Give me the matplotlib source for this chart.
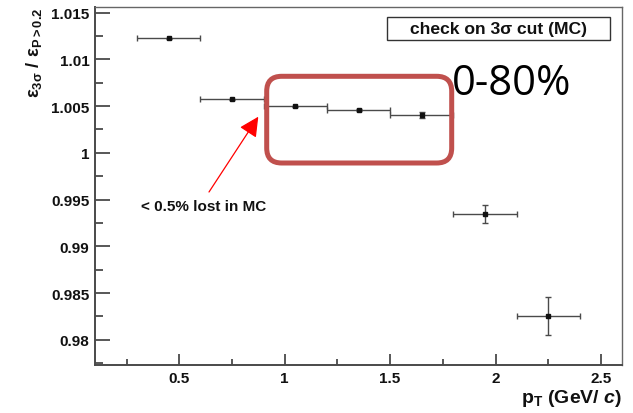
import matplotlib
matplotlib.use("Agg")
import matplotlib.pyplot as plt
from matplotlib.patches import FancyBboxPatch, Rectangle
from matplotlib.ticker import MultipleLocator
import numpy as np

plt.rcParams['font.family'] = ['Liberation Sans', 'DejaVu Sans']
plt.rcParams['mathtext.fontset'] = 'custom'
plt.rcParams['mathtext.rm'] = 'Liberation Sans:bold'
plt.rcParams['mathtext.bf'] = 'Liberation Sans:bold'
plt.rcParams['mathtext.it'] = 'Liberation Sans:italic:bold'

# pT bins (GeV/c) and efficiency ratio eps_3sigma / eps_P>0.2
pt_center = [0.45, 0.75, 1.05, 1.35, 1.65, 1.95, 2.25]
pt_halfwidth = [0.15, 0.15, 0.15, 0.15, 0.15, 0.15, 0.15]
ratio = [1.01225, 1.00575, 1.00500, 1.00457, 1.00407, 0.99345, 0.98253]
ratio_err = [0.00005, 0.00005, 0.00005, 0.00010, 0.00034, 0.00097, 0.00200]

xticks = [0.5, 1.0, 1.5, 2.0, 2.5]
xticklabels = ['0.5', '1', '1.5', '2', '2.5']
yticks = [0.98, 0.985, 0.99, 0.995, 1.0, 1.005, 1.01, 1.015]
yticklabels = ['0.98', '0.985', '0.99', '0.995', '1', '1.005', '1.01', '1.015']

fig = plt.figure(figsize=(6.33, 4.14), dpi=100)
ax = fig.add_axes([95 / 633, 48 / 414, 527 / 633, 358 / 414])

frame_col = '#4a4a4a'
ax.errorbar(pt_center, ratio, xerr=pt_halfwidth, yerr=ratio_err,
            fmt='s', color='#333333', ecolor='#4a4a4a', elinewidth=1.0,
            capsize=2.2, capthick=1.0, markersize=2.2, mec='#111111',
            mfc='#111111', zorder=3)

ax.set_xlim(0.1, 2.6)
ax.set_ylim(0.9773, 1.0156)
ax.set_xticks(xticks)
ax.set_xticklabels(xticklabels)
ax.set_yticks(yticks)
ax.set_yticklabels(yticklabels)
ax.xaxis.set_minor_locator(MultipleLocator(0.25))
ax.yaxis.set_minor_locator(MultipleLocator(0.0025))

ax.tick_params(axis='both', which='both', direction='in', colors=frame_col,
               labelcolor='#111111', width=1.3)
ax.tick_params(axis='y', which='major', length=11, labelsize=11, pad=4)
ax.tick_params(axis='y', which='minor', length=5.5)
ax.tick_params(axis='x', which='major', length=8, labelsize=11, pad=4)
ax.tick_params(axis='x', which='minor', length=4)
for lab in ax.get_xticklabels() + ax.get_yticklabels():
    lab.set_fontweight('bold')
for side in ['left', 'bottom']:
    ax.spines[side].set_color(frame_col)
    ax.spines[side].set_linewidth(1.4)
for side in ['top', 'right']:
    ax.spines[side].set_color('#666666')
    ax.spines[side].set_linewidth(1.0)

ax.set_ylabel(r'$\mathrm{ε_{3σ}\ /\ ε_{P>0.2}}$', fontsize=13.2,
              color='#111111')
ax.yaxis.set_label_coords(-0.097, 1.0)
ax.yaxis.label.set_horizontalalignment('right')

ax.set_xlabel(r'p$_\mathrm{T}$ (GeV/ $c$)', fontsize=14, fontweight='bold',
              color='#111111')
ax.xaxis.set_label_coords(1.0, -0.062)
ax.xaxis.label.set_horizontalalignment('right')

# title box in the upper right corner
box = Rectangle((387.3 / 100, (414 - 40.7) / 100), 222.7 / 100, 22.4 / 100,
                transform=fig.dpi_scale_trans, facecolor='white',
                edgecolor='#333333', linewidth=1.0, zorder=4)
fig.patches.append(box)
fig.text(498.6 / 633, 1 - 29.5 / 414, 'check on 3σ cut (MC)', ha='center',
         va='center', fontsize=12.6, fontweight='bold', color='#111111',
         zorder=5)

# highlighted region around the flat points
hl = FancyBboxPatch((2.667, 2.50), 1.85, 0.867,
                    boxstyle='round,pad=0,rounding_size=0.15',
                    transform=fig.dpi_scale_trans, facecolor='none',
                    edgecolor='#c0504d', linewidth=3.6, zorder=6)
fig.patches.append(hl)

fig.text(452 / 633, 1 - 95 / 414, '0-80%', fontsize=30, family='Open Sans',
         color='black', ha='left', va='baseline')

# annotation with arrow
ax.annotate('', xy=(258.3 / 633, 1 - 117.7 / 414),
            xytext=(209 / 633, 1 - 193 / 414),
            xycoords='figure fraction', textcoords='figure fraction',
            arrowprops=dict(arrowstyle='-|>,head_length=1.2,head_width=0.6',
                            mutation_scale=10, color='#ff0000', lw=0.9,
                            shrinkA=0, shrinkB=0))
fig.text(204 / 633, 1 - 207.5 / 414, '< 0.5% lost in MC', fontsize=11,
         fontweight='bold', color='#111111', ha='center', va='center')

fig.savefig('out.png', dpi=100)
